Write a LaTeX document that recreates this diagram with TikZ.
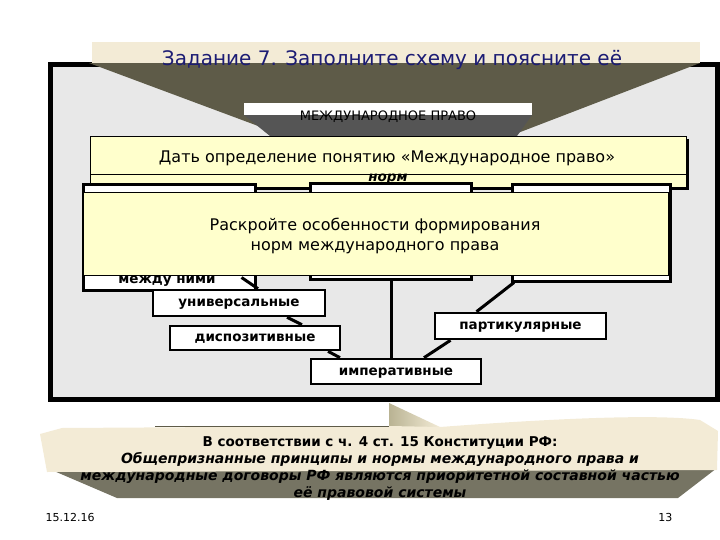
\documentclass[tikz,border=0pt]{standalone}
\usepackage{fontspec}
\setmainfont{DejaVu Sans}
\usetikzlibrary{calc}
\definecolor{cnavy}{HTML}{1C1C74}
\definecolor{colive}{HTML}{5E5B48}
\definecolor{cbeige}{HTML}{F3EBD6}
\definecolor{ctan}{HTML}{B9B393}
\definecolor{cpanel}{HTML}{E8E8E8}
\definecolor{cyellow}{HTML}{FFFFCC}
\definecolor{cdark}{HTML}{555555}
\tikzset{
  every picture/.style={x=1pt, y=-1pt},
  heading/.style={font=\fontsize{20}{23}\selectfont, text=cnavy},
  task/.style={draw=black, line width=0.6pt, fill=cyellow},
  tasktext/.style={font=\fontsize{16}{20}\selectfont, align=center},
  hidden/.style={draw=black, fill=white, line width=3pt, inner sep=0pt},
  kind/.style={draw=black, fill=white, line width=2.6pt, inner sep=0pt, text height=7.5pt, text depth=0pt, font=\bfseries\fontsize{13.5}{16}\selectfont},
  link/.style={line width=3pt},
  note/.style={font=\bfseries\itshape\fontsize{14}{17}\selectfont, align=center},
  small/.style={font=\fontsize{11}{13}\selectfont},
}

\begin{document}
\begin{tikzpicture}
  \useasboundingbox (0,0) rectangle (720,540);
  % panel
  \draw[fill=cpanel, line width=5pt] (50.5,64.5) rectangle (717.5,399.5);
  % heading banner
  \fill[colive] (89,63) -- (700,63) -- (510,136) -- (285,136) -- cycle;
  \fill[cbeige] (92,42) rectangle (700,63);
  \node[heading, anchor=base] (title) at (392,66) {Задание 7. Заполните схему и поясните её};
  % root of the scheme
  \fill[cdark] (244,115) -- (532,115) -- (517,136) -- (270,136) -- cycle;
  \fill[white] (244,103) rectangle (532,115);
  \node[font=\fontsize{13}{15}\selectfont] (root) at (388,117) {МЕЖДУНАРОДНОЕ ПРАВО};
  % first task
  \fill (93,139) rectangle (689,190);
  \draw[task] (90,136) rectangle (686,187);
  \draw[line width=0.6pt] (90,174) -- (686,174);
  \node[tasktext] (define) at (387,158) {Дать определение понятию «Международное право»};
  \node[font=\bfseries\itshape\fontsize{13.5}{16}\selectfont, anchor=base] (norm) at (388,182) {норм};
  % boxes under the second task
  \node[hidden, minimum width=172, minimum height=105] (left) at (169,237.5) {};
  \node[hidden, minimum width=161, minimum height=95] (mid) at (391,231.5) {};
  \node[hidden, minimum width=158, minimum height=96] (right) at (591.5,233) {};
  \node[font=\bfseries\fontsize{13.5}{16}\selectfont, anchor=base] (between) at (167,283) {между ними};
  % second task
  \draw[task] (83,192) rectangle (668,275);
  \node[tasktext] (form) at (375,236) {Раскройте особенности формирования\\норм международного права};
  % kinds of norms
  \node[kind, minimum width=172, minimum height=26] (univ) at (239,303) {универсальные};
  \node[kind, minimum width=170, minimum height=24] (disp) at (255,338) {диспозитивные};
  \node[kind, minimum width=170, minimum height=25] (imp) at (396,371.5) {императивные};
  \node[kind, minimum width=171, minimum height=26] (part) at (520.5,326) {партикулярные};
  \draw[link] ($(left.south east)+(-15,-14)$) -- ($(univ.north)+(19,0)$);
  \draw[link] ($(univ.south)+(48,0)$) -- ($(disp.north)+(47,0)$);
  \draw[link] ($(disp.south)+(73,0)$) -- ($(imp.north)+(-56,0)$);
  \draw[link] (mid.south) -- (mid.south |- imp.north);
  \draw[link] ($(right.south west)+(3,0)$) -- ($(part.north)+(-44,0)$);
  \draw[link] ($(part.south)+(-70,0)$) -- ($(imp.north)+(28,0)$);
  % constitution note
  \fill[colive!85] (47,468) -- (717,468) -- (678,498) -- (117,498) -- cycle;
  \shade[left color=ctan, right color=cbeige] (389,403) -- (440,427) -- (389,427) -- cycle;
  \fill[cbeige] (40,434) -- (62,428) -- (389,426) -- (440,427) .. controls (560,418) and (660,414) .. (700,420) -- (718,431) -- (717,470) -- (47,472) -- cycle;
  \draw[colive, line width=0.6pt] (155,426) -- (389,426);
  \node[note] (law) at (380,469) {{\upshape\fontsize{13.5}{17}\selectfont В соответствии с ч. 4 ст. 15 Конституции РФ:}\\Общепризнанные принципы и нормы международного права и\\международные договоры РФ являются приоритетной составной частью\\её правовой системы};
  \node[small, anchor=base west] (date) at (42,521) {15.12.16};
  \node[small, anchor=base east] (page) at (676,521) {13};
\end{tikzpicture}
\end{document}
